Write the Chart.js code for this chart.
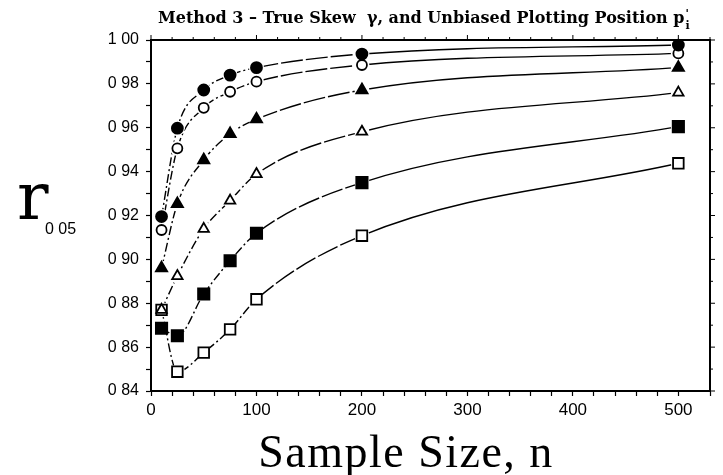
<!DOCTYPE html>
<html><head><meta charset="utf-8">
<script src="https://cdn.jsdelivr.net/npm/chart.js@4/dist/chart.umd.min.js"></script>
<style>html,body{margin:0;padding:0;background:#fff}#wrap{width:723px;height:475px}</style>
</head><body><div id="wrap"><canvas id="c" width="723" height="475"></canvas></div>
<script>
// ---- data ----
const sampleSizes = [10, 25, 50, 75, 100, 200, 500];
const filledCircle   = [0.9195, 0.9598, 0.9772, 0.9840, 0.9874, 0.9936, 0.9977];
const openCircle     = [0.9134, 0.9506, 0.9691, 0.9764, 0.9810, 0.9886, 0.9939];
const filledTriangle = [0.8960, 0.9253, 0.9453, 0.9572, 0.9639, 0.9772, 0.9874];
const openTriangle   = [0.8770, 0.8924, 0.9139, 0.9268, 0.9389, 0.9582, 0.9760];
const filledSquare   = [0.8686, 0.8652, 0.8842, 0.8994, 0.9119, 0.9350, 0.9605];
const openSquare     = [0.8770, 0.8488, 0.8575, 0.8681, 0.8818, 0.9108, 0.9438];
const xTickLabels = [0, 100, 200, 300, 400, 500];
const yTickLabels = [0.84, 0.86, 0.88, 0.90, 0.92, 0.94, 0.96, 0.98, 1.00];
const chartTitle = "Method 3 \u2013 True Skew  \u03b3, and Unbiased Plotting Position p";
const xAxisTitle = "Sample Size, n";
const yAxisSymbol = "r";
const yAxisSub = "0 05";

const seriesList = [
  {vals: filledCircle,   style: 'circle',   fill: true,  r: 5.5},
  {vals: openCircle,     style: 'circle',   fill: false, r: 5},
  {vals: filledTriangle, style: 'triangle', fill: true,  r: 6.5},
  {vals: openTriangle,   style: 'triangle', fill: false, r: 6},
  {vals: filledSquare,   style: 'rect',     fill: true,  r: 8},
  {vals: openSquare,     style: 'rect',     fill: false, r: 7.5}
];

const datasets = [];
seriesList.forEach(s => {
  const pts = sampleSizes.map((n, i) => ({x: n, y: s.vals[i]}));
  datasets.push({data: pts, order: 3, borderColor: '#000', borderWidth: 1.4, pointRadius: 0,
    cubicInterpolationMode: 'monotone', fill: false,
    segment: {borderDash: ctx => ctx.p0.parsed.x < 100 ? [9, 3, 2, 3] : (ctx.p0.parsed.x < 200 ? [22, 3] : [])}});
  datasets.push({data: pts, order: 2, showLine: false, pointRadius: 7.5, pointStyle: 'circle',
    pointBackgroundColor: '#fff', pointBorderWidth: 0, pointBorderColor: '#fff', clip: false});
  datasets.push({data: pts, order: 1, showLine: false, pointRadius: s.r, pointStyle: s.style,
    pointBackgroundColor: s.fill ? '#000' : '#fff', pointBorderColor: '#000', pointBorderWidth: 1.8, clip: false});
});

const decor = {
  id: 'decor',
  afterDraw(chart) {
    const ctx = chart.ctx, a = chart.chartArea, xs = chart.scales.x, ys = chart.scales.y;
    ctx.save();
    ctx.strokeStyle = '#000'; ctx.lineWidth = 2;
    ctx.beginPath();
    ctx.moveTo(a.left, a.top); ctx.lineTo(a.right, a.top); ctx.lineTo(a.right, a.bottom);
    ctx.stroke();
    ctx.lineWidth = 1;
    xs.ticks.forEach(t => {
      const px = xs.getPixelForValue(t.value);
      const major = xTickLabels.includes(t.value);
      ctx.beginPath(); ctx.moveTo(px, a.top); ctx.lineTo(px, a.top - (major ? 5 : 3)); ctx.stroke();
    });
    ys.ticks.forEach(t => {
      const py = ys.getPixelForValue(t.value);
      const major = Math.round(t.value * 100) % 2 === 0;
      ctx.beginPath(); ctx.moveTo(a.right, py); ctx.lineTo(a.right + (major ? 5 : 3), py); ctx.stroke();
    });
    // title
    ctx.fillStyle = '#000';
    ctx.font = 'bold 16px "DejaVu Serif"';
    ctx.textBaseline = 'alphabetic';
    ctx.textAlign = 'left';
    const w = ctx.measureText(chartTitle).width;
    const tx = 158;
    ctx.fillText(chartTitle, tx, 23);
    ctx.font = 'bold 11px "DejaVu Serif"';
    ctx.fillText("'", tx + w + 1, 17);
    ctx.fillText("i", tx + w + 1, 29);
    // y axis symbol
    ctx.font = '66px "DejaVu Serif"';
    ctx.fillText(yAxisSymbol, 17, 219);
    ctx.font = '16px "Liberation Sans"';
    ctx.fillText(yAxisSub, 45, 234);
    // x axis title
    ctx.font = '46px "Liberation Serif"';
    ctx.letterSpacing = '1.5px';
    ctx.textAlign = 'center';
    ctx.fillText(xAxisTitle, 406, 467);
    ctx.restore();
  }
};

new Chart(document.getElementById('c'), {
  type: 'line',
  data: {datasets},
  options: {
    responsive: false, animation: false, devicePixelRatio: 1,
    layout: {padding: {left: 0, top: 40, right: 13, bottom: 54}},
    plugins: {legend: {display: false}, tooltip: {enabled: false}, title: {display: false}},
    scales: {
      x: {
        type: 'linear', min: 0, max: 530,
        afterFit: s => { s.height = 30; },
        ticks: {stepSize: 20, autoSkip: false, maxRotation: 0, color: '#000', padding: 4,
          font: {family: 'Liberation Sans', size: 17},
          callback: v => xTickLabels.includes(v) ? String(v) : ''},
        grid: {drawOnChartArea: false, drawTicks: true, tickLength: 5, tickColor: '#000', tickWidth: 1.2},
        border: {color: '#000', width: 2}
      },
      y: {
        type: 'linear', min: 0.84, max: 1.0,
        afterFit: s => { s.width = 151; },
        ticks: {stepSize: 0.01, autoSkip: false, color: '#000', padding: 7,
          font: {family: 'Liberation Sans', size: 16},
          callback: v => {
            const k = Math.round(v * 100);
            const hit = yTickLabels.find(t => Math.round(t * 100) === k);
            return (hit !== undefined) ? hit.toFixed(2).replace('.', ' ') : '';
          }},
        grid: {drawOnChartArea: false, drawTicks: true, tickLength: 5, tickColor: '#000', tickWidth: 1.2},
        border: {color: '#000', width: 2}
      }
    }
  },
  plugins: [decor]
});
</script></body></html>
